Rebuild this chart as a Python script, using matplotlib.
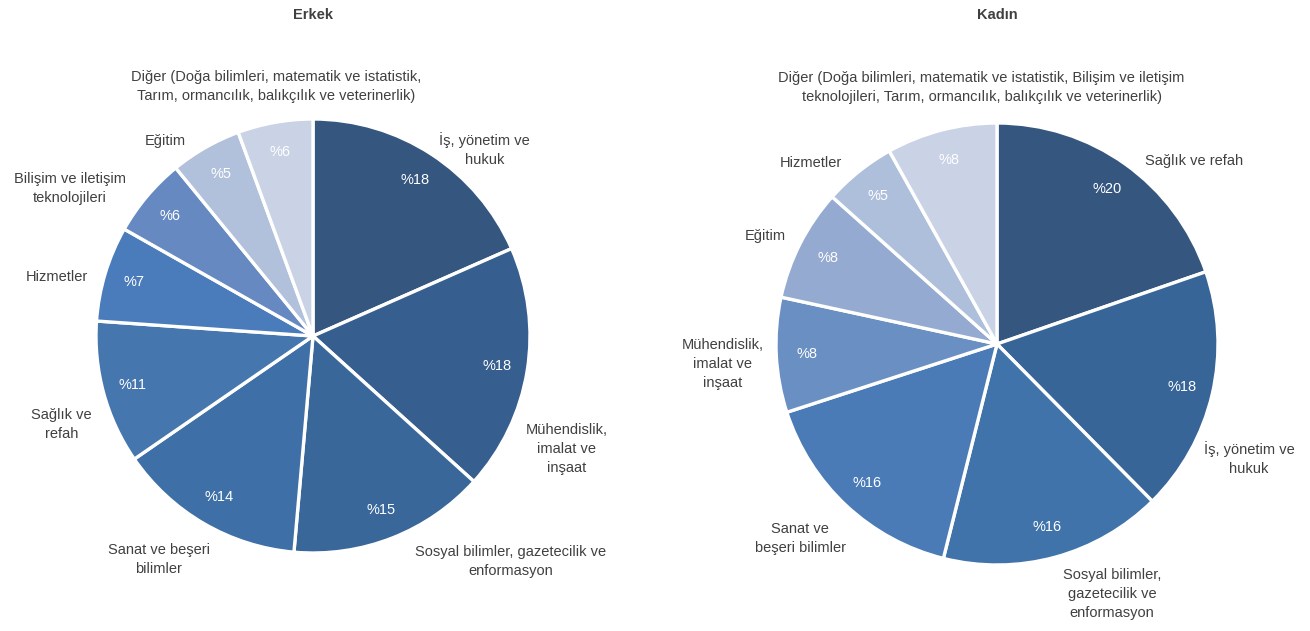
import matplotlib
matplotlib.use("Agg")
import matplotlib.pyplot as plt

plt.rcParams['font.family'] = ['Liberation Sans Narrow', 'Liberation Sans', 'DejaVu Sans']

# Erkek
erkek_labels = ['İş, yönetim ve\nhukuk', 'Mühendislik,\nimalat ve\ninşaat',
                'Sosyal bilimler, gazetecilik ve\nenformasyon', 'Sanat ve beşeri\nbilimler',
                'Sağlık ve\nrefah', 'Hizmetler', 'Bilişim ve iletişim\nteknolojileri', 'Eğitim',
                'Diğer (Doğa bilimleri, matematik ve istatistik,\nTarım, ormancılık, balıkçılık ve veterinerlik)']
erkek_values = [18.4, 18.3, 14.7, 14.0, 10.7, 7.1, 5.9, 5.3, 5.6]
erkek_colors = ['#34567f', '#365e8e', '#39679a', '#3e6fa6', '#4676ae', '#4a7bba',
                '#6689c1', '#b1c1dc', '#cad3e6']

# Kadın
kadin_labels = ['Sağlık ve refah', 'İş, yönetim ve\nhukuk', 'Sosyal bilimler,\ngazetecilik ve\nenformasyon',
                'Sanat ve\nbeşeri bilimler', 'Mühendislik,\nimalat ve\ninşaat', 'Eğitim', 'Hizmetler',
                'Diğer (Doğa bilimleri, matematik ve istatistik, Bilişim ve iletişim\nteknolojileri, Tarım, ormancılık, balıkçılık ve veterinerlik)']
kadin_values = [19.7, 17.9, 16.3, 16.1, 8.4, 8.2, 5.3, 8.1]
kadin_colors = ['#34567f', '#386597', '#4073aa', '#4a7bb7', '#6a8fc3', '#94aad0',
                '#aebfdb', '#cad3e6']

# label positions (in pie radius units)
erkek_pos = [(0.79, 0.86), (1.17, -0.52), (0.91, -1.04), (-0.71, -1.03), (-1.16, -0.41),
             (-1.18, 0.27), (-1.12, 0.68), (-0.68, 0.90), (-0.17, 1.15)]
kadin_pos = [(0.89, 0.83), (1.14, -0.52), (0.52, -1.13), (-0.89, -0.88), (-1.24, -0.09),
             (-1.05, 0.49), (-0.84, 0.82), (-0.07, 1.16)]

W, H = 1310, 631
fig = plt.figure(figsize=(13.1, 6.31), dpi=100)

def draw_pie(cx, cy, r, values, colors, labels, pos, title):
    ax = fig.add_axes([(cx - r) / W, (H - cy - r) / H, 2 * r / W, 2 * r / H])
    wedges, texts, autotexts = ax.pie(values, colors=colors, startangle=90, counterclock=False,
                                      autopct=lambda p: f'%{p:.0f}', pctdistance=0.86,
                                      wedgeprops=dict(edgecolor='white', linewidth=2.4),
                                      textprops=dict(color='white', fontsize=10.5))
    ax.set_xlim(-1, 1)
    ax.set_ylim(-1, 1)
    for lab, (x, y) in zip(labels, pos):
        ax.text(x, y, lab, ha='center', va='center', fontsize=10.5, color='#404040',
                linespacing=1.45, clip_on=False)
    fig.text(cx / W, 1 - 15 / H, title, ha='center', va='center', fontsize=10.5,
             fontweight='bold', color='#404040')

draw_pie(313, 336, 217, erkek_values, erkek_colors, erkek_labels, erkek_pos, 'Erkek')
draw_pie(997, 344, 221, kadin_values, kadin_colors, kadin_labels, kadin_pos, 'Kadın')

plt.savefig('out.png', dpi=100)
